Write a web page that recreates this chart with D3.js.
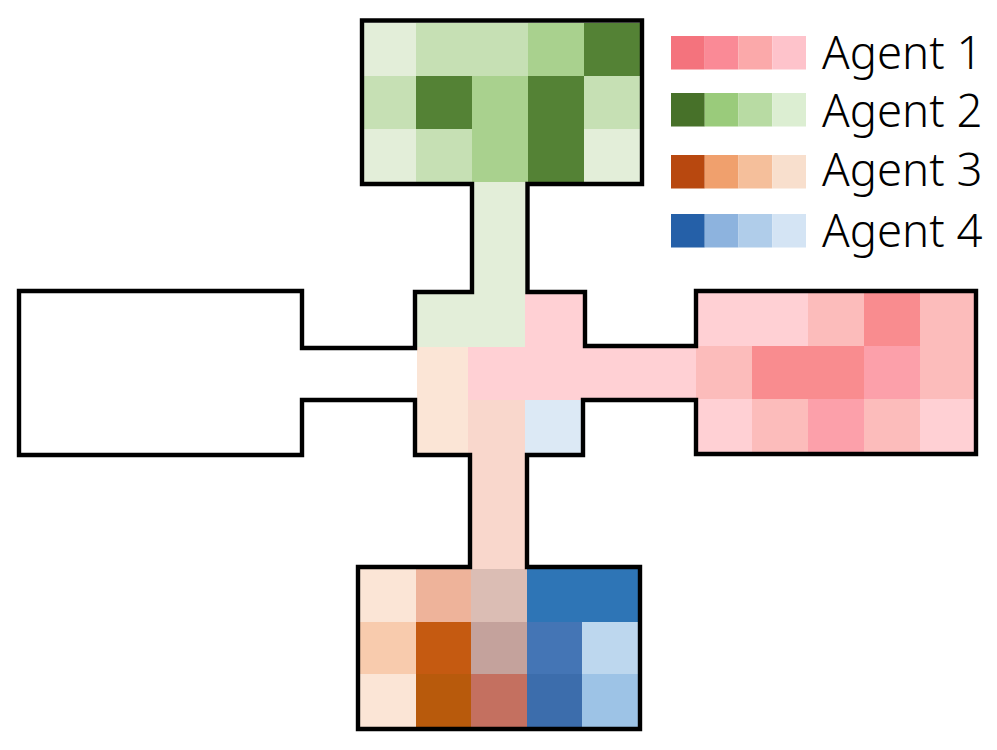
<!DOCTYPE html>
<html>
<head>
<meta charset="utf-8">
<script src="https://cdn.jsdelivr.net/npm/d3@7"></script>
<style>
  body { margin: 0; background: #fff; }
  svg { display: block; }
</style>
</head>
<body>
<div class="chart"></div>
<script>
// legend
var agents = ['Agent 1', 'Agent 2', 'Agent 3', 'Agent 4'];
var legendLevels = [4, 3, 2, 1];

// cell values: letter = agent (p,g,o,b), number = visit level, m = two agents overlapping
var topRoom = [
    ['g1', 'g2', 'g2', 'g3', 'g4'],
    ['g2', 'g4', 'g3', 'g4', 'g2'],
    ['g1', 'g2', 'g3', 'g4', 'g1']
];
var rightRoom = [
    ['p1', 'p1', 'p2', 'p4', 'p2'],
    ['p2', 'p4', 'p4', 'p3', 'p2'],
    ['p1', 'p2', 'p3', 'p2', 'p1']
];
var bottomRoom = [
    ['o1', 'o2', 'm2', 'b4', 'b4'],
    ['o1b', 'o4', 'm3', 'b4b', 'b2'],
    ['o1', 'o4b', 'm4', 'b4c', 'b3']
];
var hub = [
    ['g1', 'g1', 'p1'],
    ['o1', 'p1', 'p1'],
    ['o1', 'm1', 'b1']
];
var topCorridor = [['g1'], ['g1']];
var bottomCorridor = [['m1'], ['m1']];
var eastCorridor = [['p1', 'p1']];

// wall outline, as pairs of named wall lines
var wallOutline = [
    ['west', 'wTop'], ['wDoor', 'wTop'], ['wDoor', 'doorTopW'], ['hubW', 'doorTopW'], ['hubW', 'hubTop'],
    ['nCorrW', 'hubTop'], ['nCorrW', 'nBottom'], ['nW', 'nBottom'], ['nW', 'nTop'], ['nE', 'nTop'],
    ['nE', 'nBottom'], ['nCorrE', 'nBottom'], ['nCorrE', 'hubTop'], ['hubE', 'hubTop'], ['hubE', 'doorTopE'],
    ['eDoor', 'doorTopE'], ['eDoor', 'eTop'], ['east', 'eTop'], ['east', 'eBottom'], ['eDoor', 'eBottom'],
    ['eDoor', 'doorBottom'], ['hubE2', 'doorBottom'], ['hubE2', 'hubBottom'], ['sCorrE', 'hubBottom'],
    ['sCorrE', 'sTop'], ['sE', 'sTop'], ['sE', 'sBottom'], ['sW', 'sBottom'], ['sW', 'sTop'],
    ['sCorrW', 'sTop'], ['sCorrW', 'hubBottom'], ['hubW', 'hubBottom'], ['hubW', 'doorBottom'],
    ['wDoor', 'doorBottom'], ['wDoor', 'hubBottom'], ['west', 'hubBottom']
];

var svgWidth = 997;
var svgHeight = 750;

var svg = d3
    .select('.chart')
    .append('svg')
    .attr('width', svgWidth)
    .attr('height', svgHeight);

// colours
var cellColor = d3.scaleOrdinal()
    .domain(['p1', 'p2', 'p3', 'p4', 'g1', 'g2', 'g3', 'g4', 'o1', 'o1b', 'o2', 'o4', 'o4b',
        'b1', 'b2', 'b3', 'b4', 'b4b', 'b4c', 'm1', 'm2', 'm3', 'm4'])
    .range(['#ffd0d4', '#fcbcbb', '#fca0aa', '#f98c8f', '#e3eed9', '#c6e0b4', '#a9d18e', '#548235',
        '#fbe5d6', '#f8cbad', '#eeb39a', '#c55a11', '#b85a0c',
        '#dce9f5', '#bdd7ee', '#9dc3e6', '#2e75b6', '#4475b5', '#3c6dac',
        '#f9d7cc', '#dbbdb4', '#c4a29c', '#c47060']);

var legendColor = {
    'Agent 1': d3.scaleOrdinal(legendLevels, ['#f4737d', '#fa8a96', '#fba9aa', '#fec3cb']),
    'Agent 2': d3.scaleOrdinal(legendLevels, ['#477129', '#9acb7b', '#b8dba3', '#dceed2']),
    'Agent 3': d3.scaleOrdinal(legendLevels, ['#b8480f', '#f0a06d', '#f5bf9b', '#f8dfcd']),
    'Agent 4': d3.scaleOrdinal(legendLevels, ['#2560a8', '#8db3de', '#b0cdea', '#d4e4f4'])
};

// one pair of scales per block of cells
function drawCells(cells, xEdges, yEdges) {
    var x = d3.scaleLinear()
        .domain(xEdges.length > 2 ? d3.range(xEdges.length) : [0, cells[0].length])
        .rangeRound(xEdges);
    var y = d3.scaleLinear().domain([0, cells.length]).rangeRound(yEdges);

    var rows = svg.append('g').selectAll('g')
        .data(cells)
        .enter()
        .append('g');

    rows.selectAll('rect')
        .data(function(row, r) {
            return row.map(function(v, c) { return {v: v, c: c, r: r}; });
        })
        .enter()
        .append('rect')
        .attr('x', function(d) { return x(d.c); })
        .attr('y', function(d) { return y(d.r); })
        .attr('width', function(d) { return x(d.c + 1) - x(d.c); })
        .attr('height', function(d) { return y(d.r + 1) - y(d.r); })
        .attr('fill', function(d) { return cellColor(d.v); });
}

drawCells(topRoom, [360, 640], [23, 182]);
drawCells(rightRoom, [696, 976], [293, 452]);
drawCells(bottomRoom, [360, 638], [569, 727]);
drawCells(hub, [417, 468, 525, 583], [294, 453]);
drawCells(topCorridor, [472, 526], [182, 294]);
drawCells(bottomCorridor, [470, 526], [453, 569]);
drawCells(eastCorridor, [583, 696], [346, 399]);

// walls
var wallX = d3.scaleOrdinal()
    .domain(['west', 'wDoor', 'hubW', 'nCorrW', 'nW', 'nE', 'nCorrE', 'hubE', 'hubE2', 'eDoor', 'east',
        'sCorrE', 'sE', 'sW', 'sCorrW'])
    .range([19, 302, 415, 472, 362, 642, 527.5, 585, 583, 696, 976, 527, 640, 358, 470]);
var wallY = d3.scaleOrdinal()
    .domain(['wTop', 'doorTopW', 'doorTopE', 'doorBottom', 'hubTop', 'hubBottom', 'nTop', 'nBottom',
        'eTop', 'eBottom', 'sTop', 'sBottom'])
    .range([291, 348, 346, 400, 292, 455, 20.5, 184, 291, 454, 567, 729]);

var wallLine = d3.line()
    .x(function(d) { return wallX(d[0]); })
    .y(function(d) { return wallY(d[1]); })
    .curve(d3.curveLinearClosed);

svg.append('path')
    .attr('d', wallLine(wallOutline))
    .attr('fill', 'none')
    .attr('stroke', '#000')
    .attr('stroke-width', 4.4)
    .attr('stroke-linejoin', 'miter');

// legend
var legendY = d3.scaleOrdinal(agents, [36, 93, 155, 214]);
var labelY = d3.scaleOrdinal(agents, [68.5, 126.5, 186, 246.5]);
var swatchX = d3.scaleBand().domain(legendLevels).range([671, 806]);

var legend = svg.append('g').selectAll('g')
    .data(agents)
    .enter()
    .append('g');

legend.selectAll('rect')
    .data(function(d) {
        return legendLevels.map(function(l) { return {agent: d, level: l}; });
    })
    .enter()
    .append('rect')
    .attr('x', function(d) { return swatchX(d.level); })
    .attr('y', function(d) { return legendY(d.agent); })
    .attr('width', swatchX.bandwidth())
    .attr('height', 33.5)
    .attr('fill', function(d) { return legendColor[d.agent](d.level); });

legend.append('text')
    .attr('x', 822)
    .attr('y', function(d) { return labelY(d); })
    .attr('font-family', '"Noto Sans", sans-serif')
    .attr('font-weight', 300)
    .attr('font-size', 45.5)
    .attr('fill', '#000')
    .text(function(d) { return d; });
</script>
</body>
</html>
